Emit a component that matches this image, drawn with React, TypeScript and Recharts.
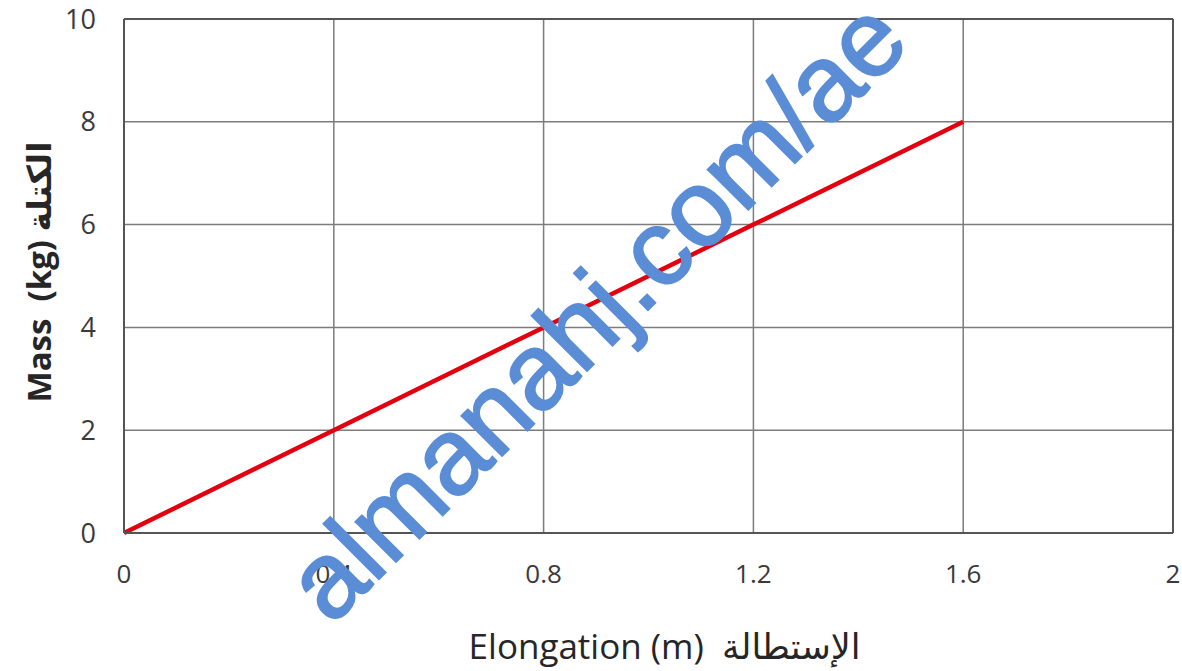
import React from 'react';
import { LineChart, Line, XAxis, YAxis, CartesianGrid, ReferenceLine } from 'recharts';

// elongation (m) against mass (kg)
const elongation = [0, 0.4, 0.8, 1.2, 1.6];
const mass = [0, 2, 4, 6, 8];
const xTicks = [0, 0.4, 0.8, 1.2, 1.6, 2];
const yTicks = [0, 2, 4, 6, 8, 10];

const data = elongation.map((x, i) => ({ x, y: mass[i] }));

const FONT = '"Open Sans", "DejaVu Sans", sans-serif';
const TEXT = '#262626';

const YLabel = ({ viewBox }: any) => {
  const cx = viewBox.x + 38;
  const cy = viewBox.y + viewBox.height / 2 - 4;
  return (
    <text
      x={cx}
      y={cy}
      transform={`rotate(-90 ${cx} ${cy})`}
      textAnchor="middle"
      dominantBaseline="central"
      fontFamily={FONT}
      fontWeight={700}
      fontSize={33}
      fill={TEXT}
      style={{ whiteSpace: 'pre' }}
    >
      {'Mass  (kg) الكتلة'}
    </text>
  );
};

const XLabel = ({ viewBox }: any) => {
  const cx = viewBox.x + viewBox.width / 2 + 16;
  const cy = viewBox.y + 112;
  return (
    <text
      x={cx}
      y={cy}
      textAnchor="middle"
      dominantBaseline="central"
      fontFamily={FONT}
      fontSize={35}
      fill={TEXT}
      style={{ whiteSpace: 'pre' }}
    >
      {'Elongation (m)  الإستطالة'}
    </text>
  );
};

export default function App() {
  return (
    <div style={{ position: 'absolute', left: 0, top: 0, width: 1182, height: 671, background: '#fff' }}>
      <LineChart width={1182} height={671} data={data} margin={{ top: 19, right: 9, left: 0, bottom: 0 }}>
        <CartesianGrid stroke="#7c7c7c" strokeWidth={1.5} />
        <XAxis
          dataKey="x"
          type="number"
          domain={[0, 2]}
          ticks={xTicks}
          interval={0}
          height={138}
          tickLine={false}
          tickSize={0}
          tickMargin={32}
          axisLine={{ stroke: '#555', strokeWidth: 2 }}
          tick={{ fontFamily: FONT, fontSize: 26, fill: '#3a3a3a' }}
          label={<XLabel />}
        />
        <YAxis
          type="number"
          domain={[0, 10]}
          ticks={yTicks}
          interval={0}
          width={124}
          tickLine={false}
          tickSize={0}
          tickMargin={28}
          axisLine={{ stroke: '#555', strokeWidth: 2 }}
          tick={{ fontFamily: FONT, fontSize: 27, fill: '#3a3a3a' }}
          label={<YLabel />}
        />
        <ReferenceLine y={10} stroke="#555" strokeWidth={2} />
        <ReferenceLine x={2} stroke="#555" strokeWidth={2} />
        <Line
          dataKey="y"
          type="linear"
          stroke="#e3000f"
          strokeWidth={4.5}
          dot={false}
          isAnimationActive={false}
        />
      </LineChart>
      {/* site watermark across the plot */}
      <svg width={1182} height={671} style={{ position: 'absolute', left: 0, top: 0, pointerEvents: 'none' }}>
        <text
          x={622}
          y={336}
          transform="rotate(-45 622 336)"
          textAnchor="middle"
          fontFamily='"Liberation Sans", Arial, sans-serif'
          fontSize={108}
          fill="#5a8dd5"
          stroke="#5a8dd5"
          strokeWidth={2}
        >
          almanahj.com/ae
        </text>
      </svg>
    </div>
  );
}
